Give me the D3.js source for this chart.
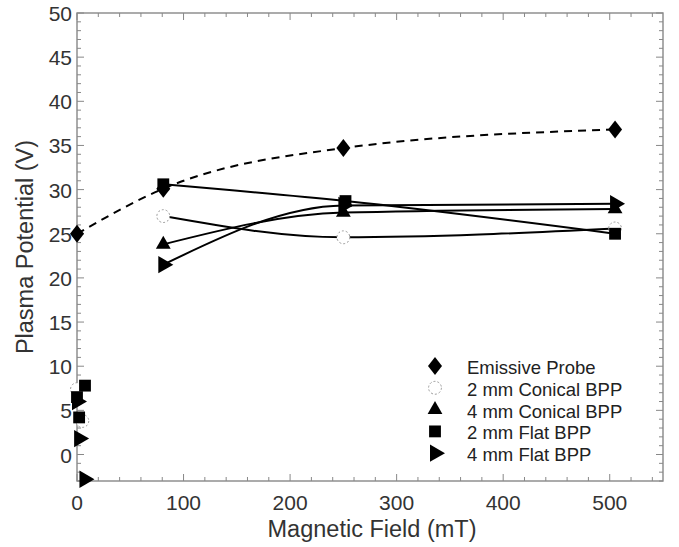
<!DOCTYPE html>
<html>
<head>
<meta charset="utf-8">
<style>
  body { margin: 0; background: #fff; }
  text { font-family: "Liberation Sans", Arial, sans-serif; }
</style>
</head>
<body>
<script src="https://d3js.org/d3.v7.min.js"></script>
<script>

var width = 679,
    height = 547,
    margin = {top: 13, right: 16, bottom: 66, left: 77};

// data: [field mT, potential V]
var emissive   = [[0, 25], [81, 30.1], [250, 34.7], [505, 36.8]];
var conical2   = [[0, 7.4], [5, 3.8], [81, 27], [250, 24.6], [505, 25.6]];
var conical4   = [[81, 23.8], [250, 27.4], [505, 27.8]];
var flat2      = [[0, 6.5], [7.5, 7.8], [2, 4.2], [81, 30.6], [252, 28.7], [505, 25]];
var flat4      = [[0, 6.0], [2, 1.8], [7, -2.8], [81, 21.5], [250, 28.2], [505, 28.4]];

var legendNames = ["Emissive Probe", "2 mm Conical BPP", "4 mm Conical BPP", "2 mm Flat BPP", "4 mm Flat BPP"];

var xTicks = [0, 100, 200, 300, 400, 500];
var yTicks = [0, 5, 10, 15, 20, 25, 30, 35, 40, 45, 50];

var svg = d3.select("body").append("svg")
    .attr("width", width)
    .attr("height", height);

var x = d3.scaleLinear().domain([0, 550]).range([margin.left, width - margin.right]);
var y = d3.scaleLinear().domain([-3, 50]).range([height - margin.bottom, margin.top]);

var axisColor = "#888";

// minor + major ticks, all inward, on four sides
function ticksX(g, yPos, dir) {
  g.selectAll(".mx").data(d3.range(0, 551, 20)).enter().append("line")
    .attr("x1", d => x(d)).attr("x2", d => x(d))
    .attr("y1", yPos).attr("y2", d => yPos + dir * (d % 100 === 0 ? 7 : 4))
    .attr("stroke", axisColor).attr("stroke-width", 1);
}
function ticksY(g, xPos, dir) {
  g.selectAll(".my").data(d3.range(-3, 51, 1)).enter().append("line")
    .attr("y1", d => y(d)).attr("y2", d => y(d))
    .attr("x1", xPos).attr("x2", d => xPos + dir * (d % 5 === 0 ? 7 : 4))
    .attr("stroke", axisColor).attr("stroke-width", 1);
}

var axes = svg.append("g");
axes.append("rect")
  .attr("x", x(0)).attr("y", y(50))
  .attr("width", x(550) - x(0)).attr("height", y(-3) - y(50))
  .attr("fill", "none").attr("stroke", axisColor).attr("stroke-width", 1.4);
ticksX(axes.append("g"), y(-3), -1);
ticksX(axes.append("g"), y(50), 1);
ticksY(axes.append("g"), x(0), 1);
ticksY(axes.append("g"), x(550), -1);

// tick labels
svg.append("g").selectAll("text").data(xTicks).enter().append("text")
  .attr("x", d => x(d)).attr("y", y(-3) + 29)
  .attr("text-anchor", "middle")
  .attr("font-size", 21).attr("fill", "#333")
  .text(d => d);

svg.append("g").selectAll("text").data(yTicks).enter().append("text")
  .attr("x", x(0) - 5).attr("y", d => y(d) + 8)
  .attr("text-anchor", "end")
  .attr("font-size", 21).attr("fill", "#333")
  .text(d => d);

// axis titles
svg.append("text")
  .attr("x", 372).attr("y", 537)
  .attr("text-anchor", "middle")
  .attr("font-size", 23.5).attr("fill", "#333")
  .text("Magnetic Field (mT)");

svg.append("text")
  .attr("transform", "translate(33,247) rotate(-90)")
  .attr("text-anchor", "middle")
  .attr("font-size", 23.5).attr("fill", "#333")
  .text("Plasma Potential (V)");

// fit curves
var line = d3.line()
  .x(d => x(d[0])).y(d => y(d[1]))
  .curve(d3.curveMonotoneX);

function fitPart(arr) { return arr.filter(d => d[0] >= 80); }

var curves = svg.append("g").attr("fill", "none");
curves.append("path").datum(emissive)
  .attr("d", line).attr("stroke", "#000").attr("stroke-width", 2)
  .attr("stroke-dasharray", "8,6");
[conical2, conical4, flat2, flat4].forEach(function (s) {
  curves.append("path").datum(fitPart(s))
    .attr("d", line).attr("stroke", "#000").attr("stroke-width", 2);
});

// markers
var diamondPath = "M0,-9L7,0L0,9L-7,0Z";
var sym = {
  diamond: function () { return diamondPath; },
  circle: d3.symbol().type(d3.symbolCircle).size(130),
  tri: d3.symbol().type(d3.symbolTriangle).size(95),
  square: d3.symbol().type(d3.symbolSquare).size(140),
  right: d3.symbol().type(d3.symbolTriangle).size(130)
};

function styleMarker(p, kind) {
  if (kind === "circle") {
    p.attr("fill", "#fff").attr("stroke", "#999").attr("stroke-width", 1).attr("stroke-dasharray", "2,2");
  } else {
    p.attr("fill", "#000");
  }
}

function drawMarkers(data, kind) {
  var g = svg.append("g");
  data.forEach(function (d) {
    var p = g.append("path")
      .attr("d", sym[kind]())
      .attr("transform", "translate(" + x(d[0]) + "," + y(d[1]) + ")" + (kind === "right" ? " rotate(90)" : ""));
    styleMarker(p, kind);
  });
}

drawMarkers(conical2, "circle");
drawMarkers(emissive, "diamond");
drawMarkers(conical4, "tri");
drawMarkers(flat2, "square");
drawMarkers(flat4, "right");

// legend
var kinds = ["diamond", "circle", "tri", "square", "right"];
var legend = svg.append("g");
legendNames.forEach(function (name, i) {
  var ly = 366 + i * 21.8;
  var p = legend.append("path")
    .attr("d", sym[kinds[i]]())
    .attr("transform", "translate(435," + ly + ")" + (kinds[i] === "right" ? " rotate(90)" : ""));
  styleMarker(p, kinds[i]);
  legend.append("text")
    .attr("x", 467).attr("y", ly + 8)
    .attr("font-size", 18.5).attr("fill", "#222")
    .text(name);
});

</script>
</body>
</html>
